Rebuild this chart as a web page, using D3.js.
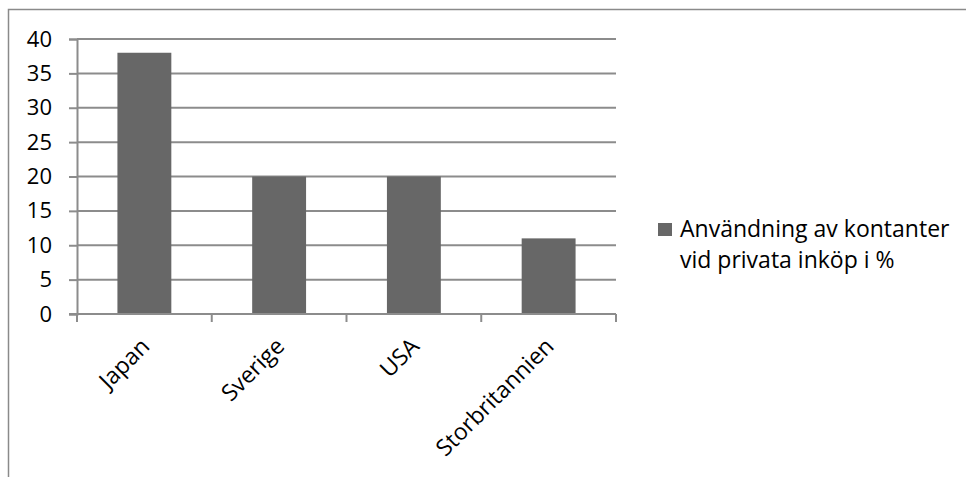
<!DOCTYPE html>
<html>
<head>
<meta charset="utf-8">
<script src="https://cdn.jsdelivr.net/npm/d3@7"></script>
<style>
  html, body { margin: 0; padding: 0; background: #fff; }
  svg { display: block; }
  text { font-family: "Open Sans", sans-serif; fill: #000; }
</style>
</head>
<body>
<svg id="chart" width="966" height="477"></svg>
<script>
// Share of cash used in private purchases, per country (%)
const categories = ["Japan", "Sverige", "USA", "Storbritannien"];
const values = [38, 20, 20, 11];
const yTicks = [0, 5, 10, 15, 20, 25, 30, 35, 40];
const legendLines = ["Användning av kontanter", "vid privata inköp i %"];

const svg = d3.select("#chart");
const W = 966, H = 477;
const plot = { left: 77, right: 616, top: 39, bottom: 314 };
const FONT = "'Open Sans', sans-serif";

// outer frame (runs off the right and bottom edges)
svg.append("rect")
  .attr("x", 8.5).attr("y", 9.5)
  .attr("width", W + 10).attr("height", H + 10)
  .attr("fill", "none").attr("stroke", "#8a8a8a").attr("stroke-width", 1.5);

const x = d3.scaleBand()
  .domain(categories)
  .range([plot.left, plot.right])
  .paddingInner(0.6).paddingOuter(0.3);

const y = d3.scaleLinear().domain([0, 40]).range([plot.bottom, plot.top]);

// horizontal gridlines
svg.append("g").selectAll("line")
  .data(yTicks.filter(d => d > 0))
  .join("line")
  .attr("x1", plot.left).attr("x2", plot.right)
  .attr("y1", d => y(d)).attr("y2", d => y(d))
  .attr("stroke", "#8c8c8c").attr("stroke-width", 2);

// bars
svg.append("g").selectAll("rect")
  .data(values)
  .join("rect")
  .attr("x", (d, i) => x(categories[i]))
  .attr("width", x.bandwidth())
  .attr("y", d => y(d))
  .attr("height", d => y(0) - y(d))
  .attr("fill", "#676767");

// y axis
const yAxis = svg.append("g")
  .attr("transform", `translate(${plot.left},0)`)
  .call(d3.axisLeft(y).tickValues(yTicks).tickSize(8).tickPadding(17));
yAxis.select(".domain").attr("stroke", "#8c8c8c").attr("stroke-width", 2);
yAxis.selectAll(".tick line").attr("stroke", "#8c8c8c").attr("stroke-width", 2);
yAxis.selectAll(".tick text")
  .attr("font-size", 22).attr("font-family", FONT)
  .attr("fill", "#000");

// x axis with ticks on the category boundaries
const xAxisG = svg.append("g");
xAxisG.append("line")
  .attr("x1", plot.left - 8).attr("x2", plot.right)
  .attr("y1", plot.bottom).attr("y2", plot.bottom)
  .attr("stroke", "#8c8c8c").attr("stroke-width", 2);
const step = x.step();
const bounds = d3.range(categories.length + 1).map(i => plot.left + i * step);
xAxisG.selectAll("line.tk")
  .data(bounds)
  .join("line").attr("class", "tk")
  .attr("x1", d => d).attr("x2", d => d)
  .attr("y1", plot.bottom).attr("y2", plot.bottom + 8)
  .attr("stroke", "#8c8c8c").attr("stroke-width", 2);

// rotated category labels
xAxisG.selectAll("text")
  .data(categories)
  .join("text")
  .attr("transform", d => `translate(${x(d) + x.bandwidth() / 2 + 1},${plot.bottom + 28}) rotate(-45)`)
  .attr("text-anchor", "end")
  .attr("dy", "0.35em")
  .attr("font-size", 23)
  .text(d => d);

// legend
const lg = svg.append("g").attr("transform", "translate(658,223)");
lg.append("rect").attr("width", 14).attr("height", 13).attr("fill", "#676767");
lg.selectAll("text")
  .data(legendLines)
  .join("text")
  .attr("x", 22)
  .attr("y", (d, i) => 14 + i * 31)
  .attr("font-size", 23)
  .text(d => d);
</script>
</body>
</html>
